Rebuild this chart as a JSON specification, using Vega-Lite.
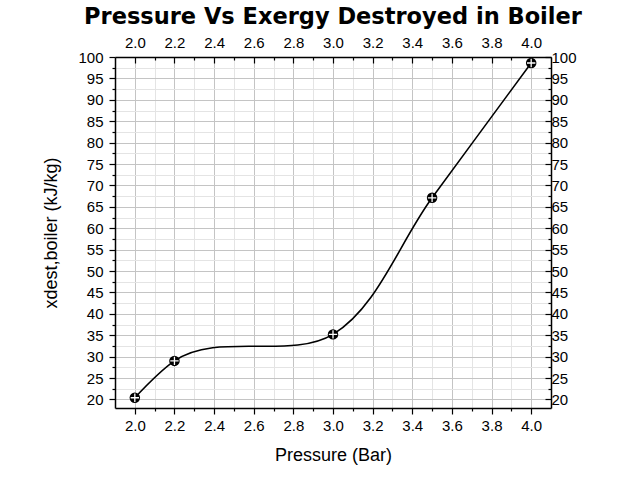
{
  "$schema": "https://vega.github.io/schema/vega-lite/v6.json",
  "description": "Pressure vs exergy destroyed in boiler",
  "autosize": "none",
  "width": 436,
  "height": 351,
  "padding": {"left": 115, "top": 57, "right": 89, "bottom": 82},
  "background": "white",
  "title": {
    "text": "Pressure Vs Exergy Destroyed in Boiler",
    "font": "DejaVu Sans",
    "fontWeight": 900,
    "fontSize": 22.5,
    "color": "black",
    "anchor": "middle",
    "offset": 4
  },
  "config": {
    "view": {"stroke": null},
    "axis": {
      "domainColor": "black",
      "domainWidth": 1.5,
      "tickColor": "black",
      "tickWidth": 1.2,
      "labelFont": "Liberation Sans",
      "labelFontSize": 15,
      "labelColor": "black",
      "titleFont": "Liberation Sans",
      "titleFontSize": 18,
      "titleFontWeight": "normal",
      "titleColor": "black",
      "labelFlush": false,
      "labelOverlap": false
    }
  },
  "data": {
    "values": [
      {"pressure": 2.0, "exergy": 20.4},
      {"pressure": 2.2, "exergy": 29.0},
      {"pressure": 3.0, "exergy": 35.2},
      {"pressure": 3.5, "exergy": 67.1},
      {"pressure": 4.0, "exergy": 98.6}
    ]
  },
  "layer": [
    {
      "mark": {"type": "line", "interpolate": "catmull-rom", "tension": 1, "color": "black", "strokeWidth": 1.6},
      "encoding": {
        "x": {
          "field": "pressure",
          "type": "quantitative",
          "scale": {"domain": [1.9, 4.1], "nice": false, "zero": false},
          "axis": {
            "orient": "bottom",
            "title": "Pressure (Bar)",
            "titlePadding": 13,
            "values": [2.0, 2.1, 2.2, 2.3, 2.4, 2.5, 2.6, 2.7, 2.8, 2.9, 3.0, 3.1, 3.2, 3.3, 3.4, 3.5, 3.6, 3.7, 3.8, 3.9, 4.0],
            "labelExpr": "abs(datum.value * 5 - round(datum.value * 5)) < 0.01 ? format(datum.value, '.1f') : ''",
            "tickSize": {"condition": {"test": "abs(datum.value * 5 - round(datum.value * 5)) < 0.01", "value": 6}, "value": 3},
            "labelPadding": 4,
            "grid": true,
            "gridColor": {"condition": {"test": "abs(datum.value * 5 - round(datum.value * 5)) < 0.01", "value": "#c4c4c4"}, "value": "#e4e4e4"},
            "gridWidth": 1
          }
        },
        "y": {
          "field": "exergy",
          "type": "quantitative",
          "scale": {"domain": [18, 100], "nice": false, "zero": false},
          "axis": {
            "orient": "left",
            "title": "xdest,boiler (kJ/kg)",
            "titlePadding": 17,
            "values": [20, 22.5, 25, 27.5, 30, 32.5, 35, 37.5, 40, 42.5, 45, 47.5, 50, 52.5, 55, 57.5, 60, 62.5, 65, 67.5, 70, 72.5, 75, 77.5, 80, 82.5, 85, 87.5, 90, 92.5, 95, 97.5, 100],
            "labelExpr": "datum.value % 5 == 0 ? format(datum.value, 'd') : ''",
            "tickSize": {"condition": {"test": "datum.value % 5 == 0", "value": 6}, "value": 3},
            "labelPadding": 6,
            "grid": true,
            "gridColor": {"condition": {"test": "datum.value % 5 == 0", "value": "#c4c4c4"}, "value": "#e4e4e4"},
            "gridWidth": 1
          }
        }
      }
    },
    {
      "mark": {"type": "point", "shape": "circle", "filled": true, "color": "black", "size": 110, "opacity": 1},
      "encoding": {
        "x": {
          "field": "pressure",
          "type": "quantitative",
          "axis": {
            "orient": "top",
            "title": null,
            "values": [2.0, 2.1, 2.2, 2.3, 2.4, 2.5, 2.6, 2.7, 2.8, 2.9, 3.0, 3.1, 3.2, 3.3, 3.4, 3.5, 3.6, 3.7, 3.8, 3.9, 4.0],
            "labelExpr": "abs(datum.value * 5 - round(datum.value * 5)) < 0.01 ? format(datum.value, '.1f') : ''",
            "tickSize": {"condition": {"test": "abs(datum.value * 5 - round(datum.value * 5)) < 0.01", "value": -6}, "value": -3},
            "labelPadding": 13,
            "grid": false
          }
        },
        "y": {
          "field": "exergy",
          "type": "quantitative",
          "axis": {
            "orient": "right",
            "title": null,
            "values": [20, 22.5, 25, 27.5, 30, 32.5, 35, 37.5, 40, 42.5, 45, 47.5, 50, 52.5, 55, 57.5, 60, 62.5, 65, 67.5, 70, 72.5, 75, 77.5, 80, 82.5, 85, 87.5, 90, 92.5, 95, 97.5, 100],
            "labelExpr": "datum.value % 5 == 0 ? format(datum.value, 'd') : ''",
            "tickSize": {"condition": {"test": "datum.value % 5 == 0", "value": -6}, "value": -3},
            "labelPadding": 6,
            "grid": false
          }
        }
      }
    },
    {
      "mark": {"type": "point", "shape": "M-1,0L1,0M0,-1L0,1", "filled": false, "stroke": "white", "strokeWidth": 1.3, "size": 70, "opacity": 1},
      "encoding": {
        "x": {"field": "pressure", "type": "quantitative", "axis": null},
        "y": {"field": "exergy", "type": "quantitative", "axis": null}
      }
    }
  ]
}
